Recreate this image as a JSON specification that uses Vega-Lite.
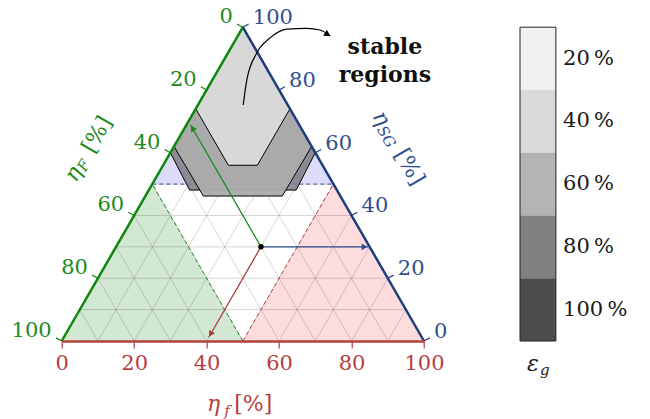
{
"$schema":"https://vega.github.io/schema/vega-lite/v6.json",
"width":362.3,"height":313.8,"autosize":"none",
"padding":{"left":61.7,"top":27.2,"right":226,"bottom":78},
"background":"white",
"config":{"view":{"stroke":null}},
"resolve":{"scale":{"color":"independent"}},
"encoding":{
 "x":{"field":"x","type":"quantitative","scale":{"domain":[0,100],"nice":false,"zero":false},
  "axis":{"values":[0,20,40,60,80,100],"title":null,"grid":false,"domainColor":"#b3403e","domainWidth":2.5,"tickColor":"#b3403e","tickWidth":1.2,"tickSize":7,"labelColor":"#b5403f","labelFont":"DejaVu Serif","labelFontSize":21,"labelPadding":4,"labelFlush":false,"labelOverlap":false,"zindex":1}},
 "y":{"field":"y","type":"quantitative","scale":{"domain":[0,100],"nice":false,"zero":false},"axis":null,"stack":null}
},
"datasets":{
 "fills":[
  {"r":"etaF","x":0,"y":0,"y2":0},{"r":"etaF","x":25,"y":50,"y2":0},{"r":"etaF","x":50,"y":0,"y2":0},
  {"r":"etaf","x":50,"y":0,"y2":0},{"r":"etaf","x":75,"y":50,"y2":0},{"r":"etaf","x":100,"y":0,"y2":0}],
 "topfill":[{"x":25,"y":50,"y2":50},{"x":50,"y":100,"y2":50},{"x":75,"y":50,"y2":50}],
 "grid":[
  {"x":5,"y":10,"x2":95,"y2":10},{"x":10,"y":20,"x2":90,"y2":20},{"x":15,"y":30,"x2":85,"y2":30},{"x":20,"y":40,"x2":80,"y2":40},{"x":25,"y":50,"x2":75,"y2":50},{"x":30,"y":60,"x2":70,"y2":60},{"x":35,"y":70,"x2":65,"y2":70},{"x":40,"y":80,"x2":60,"y2":80},{"x":45,"y":90,"x2":55,"y2":90},
  {"x":10,"y":0,"x2":55,"y2":90},{"x":20,"y":0,"x2":60,"y2":80},{"x":30,"y":0,"x2":65,"y2":70},{"x":40,"y":0,"x2":70,"y2":60},{"x":50,"y":0,"x2":75,"y2":50},{"x":60,"y":0,"x2":80,"y2":40},{"x":70,"y":0,"x2":85,"y2":30},{"x":80,"y":0,"x2":90,"y2":20},{"x":90,"y":0,"x2":95,"y2":10},
  {"x":10,"y":0,"x2":5,"y2":10},{"x":20,"y":0,"x2":10,"y2":20},{"x":30,"y":0,"x2":15,"y2":30},{"x":40,"y":0,"x2":20,"y2":40},{"x":50,"y":0,"x2":25,"y2":50},{"x":60,"y":0,"x2":30,"y2":60},{"x":70,"y":0,"x2":35,"y2":70},{"x":80,"y":0,"x2":40,"y2":80},{"x":90,"y":0,"x2":45,"y2":90}],
 "dashes":[{"c":"F","x":50,"y":0,"x2":25,"y2":50},{"c":"f","x":50,"y":0,"x2":75,"y2":50},{"c":"SG","x":25,"y":50,"x2":75,"y2":50}],
 "polyC":[{"x":30,"y":60,"y2":60},{"x":35.3,"y":70.6,"y2":48.1},{"x":50,"y":100,"y2":48.1},{"x":64.7,"y":70.6,"y2":48.1},{"x":70,"y":60,"y2":60}],
 "lineC":[{"x":30,"y":60},{"x":35.3,"y":48.1},{"x":64.7,"y":48.1},{"x":70,"y":60}],
 "polyB":[{"x":31,"y":62,"y2":62},{"x":39.1,"y":78.2,"y2":46.2},{"x":50,"y":100,"y2":46.2},{"x":60.9,"y":78.2,"y2":46.2},{"x":69,"y":62,"y2":62}],
 "lineB":[{"x":31,"y":62},{"x":39.1,"y":46.2},{"x":60.9,"y":46.2},{"x":69,"y":62}],
 "polyA":[{"x":37,"y":74,"y2":74},{"x":46,"y":92,"y2":56},{"x":50,"y":100,"y2":56},{"x":54,"y":92,"y2":56},{"x":63,"y":74,"y2":74}],
 "lineA":[{"x":37,"y":74},{"x":46,"y":56},{"x":54,"y":56},{"x":63,"y":74}],
 "edges":[{"e":"F","x":0,"y":0,"x2":50,"y2":100},{"e":"SG","x":100,"y":0,"x2":50,"y2":100}],
 "ticks":[
  {"a":"F","x":0,"y":0,"x2":-1.6,"y2":1},{"a":"F","x":10,"y":20,"x2":8.4,"y2":21},{"a":"F","x":20,"y":40,"x2":18.4,"y2":41},{"a":"F","x":30,"y":60,"x2":28.4,"y2":61},{"a":"F","x":40,"y":80,"x2":38.4,"y2":81},{"a":"F","x":50,"y":100,"x2":48.4,"y2":101},
  {"a":"SG","x":100,"y":0,"x2":101.6,"y2":1},{"a":"SG","x":90,"y":20,"x2":91.6,"y2":21},{"a":"SG","x":80,"y":40,"x2":81.6,"y2":41},{"a":"SG","x":70,"y":60,"x2":71.6,"y2":61},{"a":"SG","x":60,"y":80,"x2":61.6,"y2":81},{"a":"SG","x":50,"y":100,"x2":51.6,"y2":101}],
 "arrows":[{"a":"SG","x":55,"y":30,"x2":84.6,"y2":30},{"a":"F","x":55,"y":30,"x2":35.6,"y2":68.8},{"a":"f","x":55,"y":30,"x2":40.6,"y2":1.2}],
 "curve":[{"x":50.1,"y":75.2},{"x":51.1,"y":83.2},{"x":53.8,"y":91.7},{"x":57.5,"y":96.6},{"x":62.2,"y":99.4},{"x":67.6,"y":99.6},{"x":71.3,"y":99.1},{"x":74.1,"y":97.2}],
 "leftLabels":[{"x":50,"y":100,"t":"0"},{"x":40,"y":80,"t":"20"},{"x":30,"y":60,"t":"40"},{"x":20,"y":40,"t":"60"},{"x":10,"y":20,"t":"80"},{"x":0,"y":0,"t":"100"}],
 "rightLabels":[{"x":100,"y":0,"t":"0"},{"x":90,"y":20,"t":"20"},{"x":80,"y":40,"t":"40"},{"x":70,"y":60,"t":"60"},{"x":60,"y":80,"t":"80"},{"x":50,"y":100,"t":"100"}],
 "bar":[{"e":"20 %","x":126.5,"x2":136.4,"y":80,"y2":100},{"e":"40 %","x":126.5,"x2":136.4,"y":60,"y2":80},{"e":"60 %","x":126.5,"x2":136.4,"y":40,"y2":60},{"e":"80 %","x":126.5,"x2":136.4,"y":20,"y2":40},{"e":"100 %","x":126.5,"x2":136.4,"y":0,"y2":20}],
 "barLabels":[{"t":"20\u2009%","x":138.4,"y":90},{"t":"40\u2009%","x":138.4,"y":70},{"t":"60\u2009%","x":138.4,"y":50},{"t":"80\u2009%","x":138.4,"y":30},{"t":"100\u2009%","x":138.4,"y":10}]
},
"layer":[
 {"data":{"name":"fills"},"mark":{"type":"area"},
  "encoding":{"y2":{"field":"y2"},"color":{"field":"r","type":"nominal","scale":{"domain":["etaF","etaf"],"range":["#d3e8d3","#fddcdd"]},"legend":null}}},
 {"data":{"name":"grid"},"mark":{"type":"rule","color":"#000000","opacity":0.16,"strokeWidth":1},
  "encoding":{"x2":{"field":"x2"},"y2":{"field":"y2"}}},
 {"data":{"name":"topfill"},"mark":{"type":"area","color":"#dcdcfa"},"encoding":{"y2":{"field":"y2"}}},
 {"data":{"name":"dashes"},"mark":{"type":"rule","strokeWidth":1,"strokeDash":[4,3]},
  "encoding":{"x2":{"field":"x2"},"y2":{"field":"y2"},"color":{"field":"c","type":"nominal","scale":{"domain":["F","f","SG"],"range":["#1a8a1a","#b5403f","#2f4f8f"]},"legend":null}}},
 {"data":{"name":"polyC"},"mark":{"type":"area","color":"#7c7c84","opacity":0.85},"encoding":{"y2":{"field":"y2"}}},
 {"data":{"name":"lineC"},"mark":{"type":"line","color":"#000000","strokeWidth":1}},
 {"data":{"name":"polyB"},"mark":{"type":"area","color":"#acacac","opacity":0.95},"encoding":{"y2":{"field":"y2"}}},
 {"data":{"name":"lineB"},"mark":{"type":"line","color":"#000000","strokeWidth":1}},
 {"data":{"name":"polyA"},"mark":{"type":"area","color":"#d8d8d8"},"encoding":{"y2":{"field":"y2"}}},
 {"data":{"name":"lineA"},"mark":{"type":"line","color":"#000000","strokeWidth":1}},
 {"data":{"name":"edges"},"mark":{"type":"rule","strokeWidth":2.5},
  "encoding":{"x2":{"field":"x2"},"y2":{"field":"y2"},"color":{"field":"e","type":"nominal","scale":{"domain":["F","SG"],"range":["#0f870f","#1f3c7c"]},"legend":null}}},
 {"data":{"name":"ticks"},"mark":{"type":"rule","strokeWidth":1.2},
  "encoding":{"x2":{"field":"x2"},"y2":{"field":"y2"},"color":{"field":"a","type":"nominal","scale":{"domain":["F","SG"],"range":["#0f870f","#1f3c7c"]},"legend":null}}},
 {"data":{"name":"arrows"},"mark":{"type":"rule","strokeWidth":1.2},
  "encoding":{"x2":{"field":"x2"},"y2":{"field":"y2"},"color":{"field":"a","type":"nominal","scale":{"domain":["SG","F","f"],"range":["#2f4f8f","#1a8a1a","#a83a3a"]},"legend":null}}},
 {"data":{"values":[{"x":83.6,"y":30}]},"mark":{"type":"point","shape":"triangle-right","filled":true,"size":45,"angle":0,"color":"#2f4f8f","opacity":1}},
 {"data":{"values":[{"x":36.1,"y":67.8}]},"mark":{"type":"point","shape":"triangle-right","filled":true,"size":45,"angle":240,"color":"#1a8a1a","opacity":1}},
 {"data":{"values":[{"x":41.1,"y":2.2}]},"mark":{"type":"point","shape":"triangle-right","filled":true,"size":45,"angle":120,"color":"#a83a3a","opacity":1}},
 {"data":{"values":[{"x":55,"y":30}]},"mark":{"type":"point","shape":"circle","filled":true,"size":30,"color":"#000000","opacity":1}},
 {"data":{"name":"curve"},"mark":{"type":"line","interpolate":"monotone","color":"#000000","strokeWidth":1.2}},
 {"data":{"values":[{"x":73.4,"y":97.7}]},"mark":{"type":"point","shape":"triangle-right","filled":true,"size":50,"angle":31,"color":"#000000","opacity":1}},
 {"data":{"name":"leftLabels"},"mark":{"type":"text","font":"DejaVu Serif","align":"right","baseline":"alphabetic","dx":-10,"dy":-4,"fontSize":21,"color":"#1d8a1d"},"encoding":{"text":{"field":"t"}}},
 {"data":{"name":"rightLabels"},"mark":{"type":"text","font":"DejaVu Serif","align":"left","baseline":"alphabetic","dx":10,"dy":-3,"fontSize":21,"color":"#2f4f8f"},"encoding":{"text":{"field":"t"}}},
 {"data":{"values":[{"x":40.1,"y":-22.3,"t":"η"}]},"mark":{"type":"text","font":"DejaVu Serif","align":"left","baseline":"alphabetic","fontSize":22,"fontStyle":"italic","color":"#b5403f"},"encoding":{"text":{"field":"t"}}},
 {"data":{"values":[{"x":44.9,"y":-23.8,"t":"f"}]},"mark":{"type":"text","font":"DejaVu Serif","align":"left","baseline":"alphabetic","fontSize":15,"fontStyle":"italic","color":"#b5403f"},"encoding":{"text":{"field":"t"}}},
 {"data":{"values":[{"x":47.6,"y":-22.3,"t":"[%]"}]},"mark":{"type":"text","font":"DejaVu Serif","align":"left","baseline":"alphabetic","fontSize":22,"color":"#b5403f"},"encoding":{"text":{"field":"t"}}},
 {"data":{"values":[{"x":3.95,"y":50.35,"t":"η"}]},"mark":{"type":"text","font":"DejaVu Serif","align":"left","baseline":"alphabetic","fontSize":22,"fontStyle":"italic","angle":-60,"color":"#1d8a1d"},"encoding":{"text":{"field":"t"}}},
 {"data":{"values":[{"x":6.6,"y":53.73,"t":"F"}]},"mark":{"type":"text","font":"DejaVu Serif","align":"left","baseline":"alphabetic","fontSize":15,"fontStyle":"italic","angle":-60,"color":"#1d8a1d"},"encoding":{"text":{"field":"t"}}},
 {"data":{"values":[{"x":8.78,"y":59.4,"t":"[%]"}]},"mark":{"type":"text","font":"DejaVu Serif","align":"left","baseline":"alphabetic","fontSize":22,"angle":-60,"color":"#1d8a1d"},"encoding":{"text":{"field":"t"}}},
 {"data":{"values":[{"x":85.65,"y":71.7,"t":"η"}]},"mark":{"type":"text","font":"DejaVu Serif","align":"left","baseline":"alphabetic","fontSize":22,"fontStyle":"italic","angle":60,"color":"#2f4f8f"},"encoding":{"text":{"field":"t"}}},
 {"data":{"values":[{"x":86.86,"y":67.37,"t":"SG"}]},"mark":{"type":"text","font":"DejaVu Serif","align":"left","baseline":"alphabetic","fontSize":15,"fontStyle":"italic","angle":60,"color":"#2f4f8f"},"encoding":{"text":{"field":"t"}}},
 {"data":{"values":[{"x":91.7,"y":59.6,"t":"[%]"}]},"mark":{"type":"text","font":"DejaVu Serif","align":"left","baseline":"alphabetic","fontSize":22,"angle":60,"color":"#2f4f8f"},"encoding":{"text":{"field":"t"}}},
 {"data":{"name":"bar"},"mark":{"type":"rect"},
  "encoding":{"x2":{"field":"x2"},"y2":{"field":"y2"},
   "color":{"field":"e","type":"nominal","scale":{"domain":["20 %","40 %","60 %","80 %","100 %"],"range":["#f0f0f0","#d9d9d9","#b3b3b3","#808080","#4d4d4d"]},"legend":null}}},
 {"data":{"values":[{"x":126.5,"x2":136.4,"y":0,"y2":100}]},"mark":{"type":"rect","filled":false,"stroke":"#222222","strokeWidth":1},
  "encoding":{"x2":{"field":"x2"},"y2":{"field":"y2"}}},
 {"data":{"name":"barLabels"},"mark":{"type":"text","font":"DejaVu Serif","align":"left","baseline":"middle","fontSize":21,"color":"#1a1a1a"},
  "encoding":{"text":{"field":"t"}}},
 {"data":{"values":[{"x":128.4,"y":-9.56,"t":"ε"}]},"mark":{"type":"text","font":"DejaVu Serif","align":"left","baseline":"alphabetic","fontSize":22,"fontStyle":"italic","color":"#1a1a1a"},"encoding":{"text":{"field":"t"}}},
 {"data":{"values":[{"x":132.0,"y":-10.8,"t":"g"}]},"mark":{"type":"text","font":"DejaVu Serif","align":"left","baseline":"alphabetic","fontSize":15,"fontStyle":"italic","color":"#1a1a1a"},"encoding":{"text":{"field":"t"}}},
 {"data":{"values":[{"x":89.2,"y":91.4,"t":"stable"},{"x":89.2,"y":82.6,"t":"regions"}]},"mark":{"type":"text","align":"center","baseline":"alphabetic","font":"DejaVu Serif","fontWeight":"bold","fontSize":22,"color":"#111111"},"encoding":{"text":{"field":"t"}}}
]
}
